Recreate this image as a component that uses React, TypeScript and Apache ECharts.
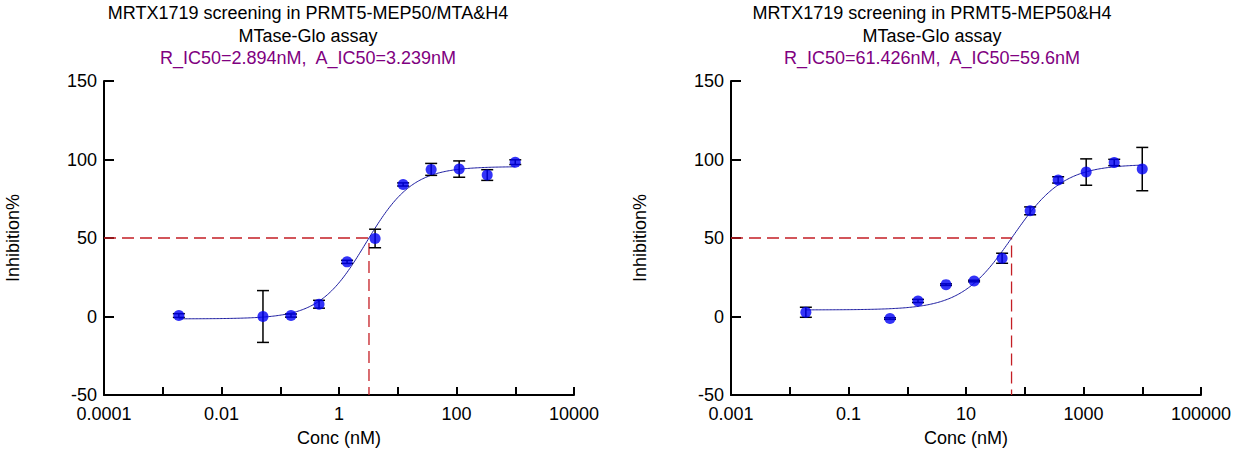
import React, { useEffect, useRef } from "react";
import * as echarts from "echarts";

// ---------- data ----------
const leftTitle = "MRTX1719 screening in PRMT5-MEP50/MTA&H4";
const rightTitle = "MRTX1719 screening in PRMT5-MEP50&H4";
const subTitle = "MTase-Glo assay";
const leftIC50Text = "R_IC50=2.894nM,  A_IC50=3.239nM";
const rightIC50Text = "R_IC50=61.426nM,  A_IC50=59.6nM";

const leftConc = [0.00188, 0.0508, 0.1524, 0.4572, 1.372, 4.115, 12.35, 37.04, 111.1, 333.3, 1000];
const leftInhib = [0.6, 0, 0.6, 7.8, 34.8, 49.7, 84.1, 93.7, 93.9, 90.1, 98.3];
const leftErr = [1.2, 16.5, 1.0, 2.5, 1.0, 5.9, 1.0, 3.8, 5.2, 3.4, 1.5];

const rightConc = [0.0188, 0.508, 1.524, 4.572, 13.72, 41.15, 123.5, 370.4, 1111, 3333, 10000];
const rightInhib = [2.7, -1.3, 9.9, 20.3, 22.6, 37.1, 67.3, 87.0, 92.0, 98.1, 93.9];
const rightErr = [3.2, 0.5, 1.0, 0.5, 0.5, 3.2, 2.5, 2.0, 8.4, 2.0, 13.8];

// 4-parameter logistic fit parameters (bottom, top, relative IC50, hill)
const leftFit = { bottom: -1.5, top: 95.5, ic50: 2.894, hill: 1.1 };
const rightFit = { bottom: 4.2, top: 97.0, ic50: 61.426, hill: 1.0 };
const leftAbsIC50 = 3.239;
const rightAbsIC50 = 59.6;

const leftXRange = [0.0001, 10000];
const rightXRange = [0.001, 100000];
const yTicks = { min: -50, max: 150, step: 50 };

// ---------- helpers ----------
const FONT = '"Liberation Sans", Arial, Helvetica, sans-serif';

function fitCurve(fit: any, x0: number, x1: number, n = 240) {
  const out: number[][] = [];
  const l0 = Math.log10(x0), l1 = Math.log10(x1);
  for (let i = 0; i <= n; i++) {
    const x = Math.pow(10, l0 + ((l1 - l0) * i) / n);
    const y = fit.bottom + (fit.top - fit.bottom) / (1 + Math.pow(fit.ic50 / x, fit.hill));
    out.push([x, y]);
  }
  return out;
}

function xLabelFormatter(minExp: number) {
  return (v: number) => {
    const e = Math.round(Math.log10(v));
    if ((e - minExp) % 2 !== 0) return "";
    return e < 0 ? Math.pow(10, e).toFixed(-e) : String(Math.round(Math.pow(10, e)));
  };
}

const errRender = (params: any, api: any) => {
  const x = api.value(0);
  const lo = api.coord([x, api.value(1)]);
  const hi = api.coord([x, api.value(2)]);
  const w = 6;
  const st = { stroke: "#000", lineWidth: 1.5 };
  return {
    type: "group",
    children: [
      { type: "line", shape: { x1: lo[0], y1: lo[1], x2: hi[0], y2: hi[1] }, style: st },
      { type: "line", shape: { x1: lo[0] - w, y1: lo[1], x2: lo[0] + w, y2: lo[1] }, style: st },
      { type: "line", shape: { x1: hi[0] - w, y1: hi[1], x2: hi[0] + w, y2: hi[1] }, style: st },
    ],
  };
};

function axisX(idx: number, range: number[]) {
  return {
    type: "log",
    logBase: 10,
    gridIndex: idx,
    min: range[0],
    max: range[1],
    interval: 1,
    name: "Conc (nM)",
    nameLocation: "middle",
    nameGap: 34,
    nameTextStyle: { color: "#000", fontSize: 18, fontFamily: FONT },
    axisLine: { onZero: false, lineStyle: { color: "#000", width: 2 } },
    axisTick: { inside: true, length: 8, lineStyle: { color: "#000", width: 2 } },
    axisLabel: {
      color: "#000",
      fontSize: 18,
      lineHeight: 15,
      fontFamily: FONT,
      margin: 11,
      showMinLabel: true,
      showMaxLabel: true,
      hideOverlap: false,
      formatter: xLabelFormatter(Math.round(Math.log10(range[0]))),
    },
    splitLine: { show: false },
  };
}

function axisY(idx: number) {
  return {
    type: "value",
    gridIndex: idx,
    min: yTicks.min,
    max: yTicks.max,
    interval: yTicks.step,
    name: "Inhibition%",
    nameLocation: "middle",
    nameGap: 82,
    nameRotate: 90,
    nameTextStyle: { color: "#000", fontSize: 18, fontFamily: FONT },
    axisLine: { show: true, onZero: false, lineStyle: { color: "#000", width: 2 } },
    axisTick: { show: true, inside: true, length: 10, lineStyle: { color: "#000", width: 2 } },
    axisLabel: { color: "#000", fontSize: 18, lineHeight: 15, fontFamily: FONT, margin: 7 },
    splitLine: { show: false },
  };
}

function seriesFor(idx: number, conc: number[], inhib: number[], err: number[], fit: any, absIC50: number, xMin: number) {
  const pts = conc.map((c, i) => [c, inhib[i]]);
  const bars = conc.map((c, i) => [c, inhib[i] - err[i], inhib[i] + err[i]]);
  return [
    {
      type: "line",
      xAxisIndex: idx,
      yAxisIndex: idx,
      data: [[xMin, 50], [absIC50, 50], [absIC50, yTicks.min]],
      symbol: "none",
      lineStyle: { color: "#c41e24", width: 1.3, type: [12, 6] },
      z: 1,
      silent: true,
    },
    {
      type: "line",
      xAxisIndex: idx,
      yAxisIndex: idx,
      data: fitCurve(fit, conc[0], conc[conc.length - 1]),
      symbol: "none",
      lineStyle: { color: "#1c1ca0", width: 1 },
      z: 2,
      silent: true,
    },
    {
      type: "custom",
      xAxisIndex: idx,
      yAxisIndex: idx,
      data: bars,
      encode: { x: 0, y: [1, 2] },
      renderItem: errRender,
      z: 3,
      silent: true,
    },
    {
      type: "scatter",
      xAxisIndex: idx,
      yAxisIndex: idx,
      data: pts,
      symbol: "circle",
      symbolSize: 11,
      itemStyle: { color: "#0000f5" },
      z: 4,
      silent: true,
    },
  ];
}

function titleTexts(cx: number, l1: string, l3: string) {
  const base = { fontSize: 18, fontFamily: FONT, textAlign: "center", textVerticalAlign: "middle" };
  return [
    { type: "text", x: cx, y: 13, style: { ...base, text: l1, fill: "#000" } },
    { type: "text", x: cx, y: 36, style: { ...base, text: subTitle, fill: "#000" } },
    { type: "text", x: cx, y: 58, style: { ...base, text: l3, fill: "#800080" } },
  ];
}

export default function App() {
  const ref = useRef<HTMLDivElement>(null);
  useEffect(() => {
    if (!ref.current) return;
    const chart = echarts.init(ref.current, undefined, { renderer: "svg" });
    chart.setOption({
      animation: false,
      backgroundColor: "#fff",
      grid: [
        { left: 104, top: 81, width: 470, height: 318 },
        { left: 731, top: 81, width: 470, height: 318 },
      ],
      xAxis: [axisX(0, leftXRange), axisX(1, rightXRange)],
      yAxis: [axisY(0), axisY(1)],
      series: [
        ...seriesFor(0, leftConc, leftInhib, leftErr, leftFit, leftAbsIC50, leftXRange[0]),
        ...seriesFor(1, rightConc, rightInhib, rightErr, rightFit, rightAbsIC50, rightXRange[0]),
      ],
      graphic: [
        ...titleTexts(308, leftTitle, leftIC50Text),
        ...titleTexts(932, rightTitle, rightIC50Text),
      ],
    });
    return () => chart.dispose();
  }, []);
  return (
    <div
      ref={ref}
      style={{ position: "absolute", left: 0, top: 0, width: 1240, height: 452, background: "#fff" }}
    />
  );
}
